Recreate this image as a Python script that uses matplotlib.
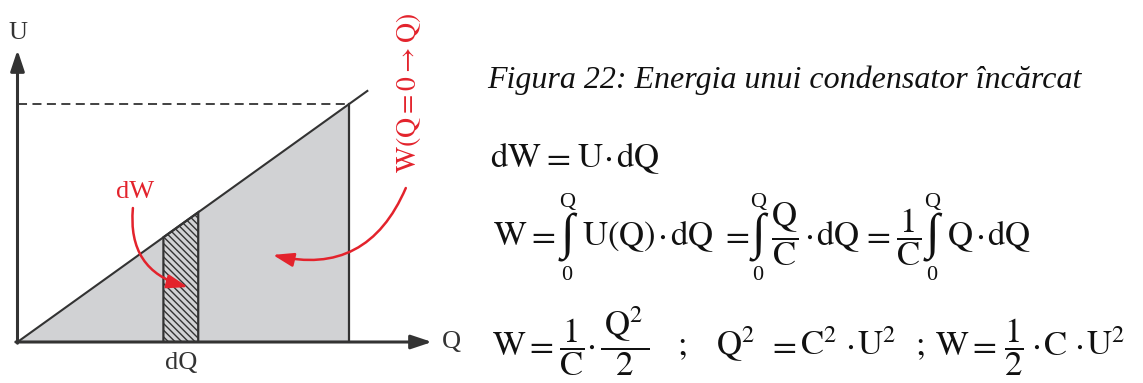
import matplotlib
matplotlib.use("Agg")
import matplotlib.pyplot as plt
from matplotlib.patches import Polygon, FancyArrowPatch

plt.rcParams['mathtext.fontset'] = 'stix'
plt.rcParams['font.family'] = ['Liberation Serif', 'DejaVu Serif']
plt.rcParams['hatch.linewidth'] = 1.0

# capacitor charging: U grows linearly with Q
capacitance = 1.0
q_end = 10.0          # final charge
q_line_end = 10.55    # the U(Q) line runs a bit past the final charge
q_strip = [4.4, 5.45] # the dQ slice
q_axis_end = 12.5
u_axis_end = 12.27
u_end = q_end / capacitance

grey = '#d1d2d4'
dark = '#333333'
red = '#e3232c'
ink = '#111111'

W, H = 1143, 383
fig = plt.figure(figsize=(W / 100, H / 100), dpi=100)

# diagram axes: origin sits at the lower left of the axes
x0, y0 = 17.5, 342
ax = fig.add_axes([x0 / W, (H - y0) / H, (432 - x0) / W, (y0 - 50) / H])
ax.set_xlim(0, q_axis_end)
ax.set_ylim(0, u_axis_end)
ax.axis('off')

# energy area under the line
area = Polygon([(0, 0), (q_end, u_end), (q_end, 0)], closed=True,
               facecolor=grey, edgecolor='none', zorder=1)
ax.add_patch(area)

# hatched dW slice
u_a = q_strip[0] / capacitance
u_b = q_strip[1] / capacitance
strip = Polygon([(q_strip[0], 0), (q_strip[0], u_a), (q_strip[1], u_b), (q_strip[1], 0)],
                closed=True, facecolor=grey, edgecolor=dark, hatch='\\\\\\\\\\',
                linewidth=1.6, zorder=2)
ax.add_patch(strip)

ax.plot([0, q_line_end], [0, q_line_end / capacitance], color=dark, lw=1.5, zorder=3)
ax.plot([q_end, q_end], [0, u_end], color=dark, lw=1.6, zorder=3)
ax.plot([0, q_end], [u_end, u_end], color=dark, lw=1.3, ls=(0, (5, 3)), zorder=3)

# axes with arrow heads
arrow_kw = dict(arrowstyle='-|>,head_length=0.9,head_width=0.3', color=dark, lw=2.2,
                shrinkA=0, shrinkB=0, mutation_scale=14)
ax.annotate('', xy=(q_axis_end, 0), xytext=(-0.05, 0), arrowprops=arrow_kw,
            annotation_clip=False, zorder=4)
ax.annotate('', xy=(0, u_axis_end), xytext=(0, -0.05), arrowprops=arrow_kw,
            annotation_clip=False, zorder=4)

ax.text(0, 13.0, 'U', fontsize=19, color=dark, ha='center', va='center')
ax.text(13.1, 0, 'Q', fontsize=19, color=dark, ha='center', va='center')
ax.text(sum(q_strip) / 2, -0.9, 'dQ', fontsize=19, color=dark, ha='center', va='center')

# red annotations
ax.text(3.54, 6.3, 'dW', fontsize=19, color=red, ha='center', va='center')
ax.text(11.78, 10.45, r'$\mathrm{W}(\mathrm{Q} = 0 \rightarrow \mathrm{Q})$', fontsize=20,
        color=red, ha='center', va='center', rotation=90)

red_kw = dict(arrowstyle='-|>,head_length=0.9,head_width=0.3', color=red, lw=1.8,
              mutation_scale=14, shrinkA=0, shrinkB=0)
ax.add_patch(FancyArrowPatch((3.48, 5.63), (5.14, 2.31),
                             connectionstyle='arc3,rad=0.42', zorder=5, **red_kw))
ax.add_patch(FancyArrowPatch((11.71, 6.47), (7.70, 3.66),
                             connectionstyle='arc3,rad=-0.42', zorder=5, **red_kw))


# caption and formulas; positions in pixels from the top-left corner
FS = 25


def put(x, y, s, size=FS, **kw):
    fig.text(x / W, 1 - y / H, s, fontsize=size, color=ink, ha='left', va='baseline', **kw)


def row(y, pieces):
    for x, s in pieces:
        put(x, y, s)


def integral(xc, y):
    fig.text(xc / W, 1 - (y - 8) / H, '∫', fontsize=36, color=ink, ha='center',
             va='center')
    fig.text(xc / W, 1 - (y - 43) / H, 'Q', fontsize=16, color=ink, ha='center',
             va='center')
    fig.text(xc / W, 1 - (y + 31) / H, '0', fontsize=16, color=ink, ha='center',
             va='center')


caption = 'Figura 22: Energia unui condensator încărcat'
put(487, 88, caption, 23, style='italic')

dot = r'$\cdot$'
eq = r'$=$'

# dW = U·dQ
row(167, [(490, r'$\mathrm{dW}$'), (541, eq), (577, r'$\mathrm{U}$'),
          (603, dot), (616, r'$\mathrm{dQ}$')])

# W = ∫U(Q)·dQ = ∫Q/C·dQ = 1/C ∫Q·dQ
yb = 245
row(yb, [(493, r'$\mathrm{W}$'), (526, eq), (582, r'$\mathrm{U(Q)}$'),
         (657, dot), (670, r'$\mathrm{dQ}$'), (720, eq),
         (771, r'$\dfrac{\mathrm{Q}}{\mathrm{C}}$'), (804, dot), (816, r'$\mathrm{dQ}$'),
         (861, eq), (896, r'$\dfrac{1}{\mathrm{C}}$'),
         (947, r'$\mathrm{Q}$'), (975, dot), (987, r'$\mathrm{dQ}$')])
integral(567, yb)
integral(758, yb)
integral(932, yb)

# W = 1/C·Q²/2 ; Q² = C²·U² ; W = ½·C·U²
row(355, [(492, r'$\mathrm{W}$'), (524, eq), (559, r'$\dfrac{1}{\mathrm{C}}$'),
          (586, dot), (600, r'$\dfrac{\,\mathrm{Q}^2\,}{2}$'), (677, r'$;$'),
          (716, r'$\mathrm{Q}^2$'), (767, eq), (800, r'$\mathrm{C}^2$'), (845, dot),
          (857, r'$\mathrm{U}^2$'), (915, r'$;$'), (935, r'$\mathrm{W}$'), (967, eq),
          (1004, r'$\dfrac{1}{2}$'), (1031, dot), (1043, r'$\mathrm{C}$'), (1074, dot),
          (1086, r'$\mathrm{U}^2$')])

fig.savefig('out.png', dpi=100)
